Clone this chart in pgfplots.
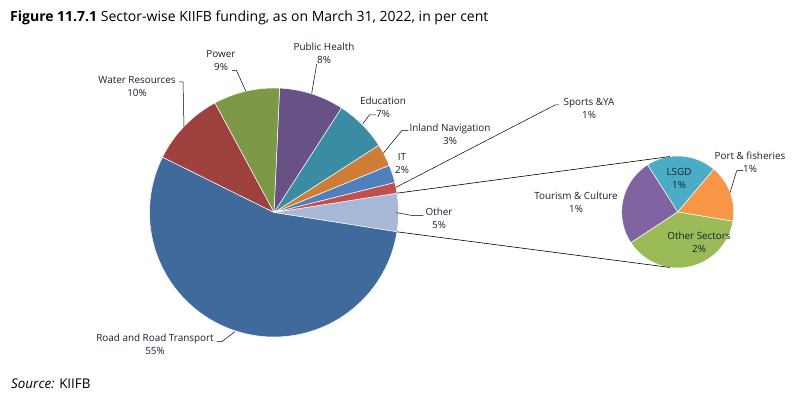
\documentclass[border=0pt]{standalone}
\usepackage{pgfplots}
\pgfplotsset{compat=1.18}
\usepackage{fontspec}
\setmainfont{Open Sans}
\definecolor{cRoad}{RGB}{65,106,156}
\definecolor{cWater}{RGB}{158,65,62}
\definecolor{cPower}{RGB}{125,152,71}
\definecolor{cPH}{RGB}{104,81,133}
\definecolor{cEdu}{RGB}{58,140,163}
\definecolor{cInland}{RGB}{206,125,57}
\definecolor{cIT}{RGB}{78,128,189}
\definecolor{cSports}{RGB}{193,80,77}
\definecolor{cOther}{RGB}{167,185,215}
\definecolor{cLSGD}{RGB}{75,172,198}
\definecolor{cPort}{RGB}{247,150,70}
\definecolor{cOS}{RGB}{155,187,89}
\definecolor{cTour}{RGB}{128,100,162}
\definecolor{txt}{RGB}{26,32,50}
% main pie values (per cent)
\def\vOther{4.96}
\def\vSports{1.40}
\def\vIT{2.30}
\def\vInland{2.90}
\def\vEdu{6.80}
\def\vPH{8.40}
\def\vPower{8.60}
\def\vWater{9.80}
\def\vRoad{54.84}
% secondary pie values (per cent)
\def\vPort{0.82}
\def\vLSGD{1.00}
\def\vTour{1.25}
\def\vOS{1.89}
\newcommand\slice[6]{%
  \addplot[fill=#6, draw=white, line width=0.5pt, domain=#4:#5, samples=90, variable=\t]
    ({#1+#3*cos(\t)},{#2+#3*sin(\t)}) -- (axis cs:#1,#2) -- cycle;}
\tikzset{lbl/.style={text=txt, font=\fontsize{9.9}{13}\selectfont, align=center, inner sep=1pt},
  ldr/.style={black, line width=0.5pt}}
\begin{document}
\begin{tikzpicture}
\pgfmathsetmacro\aA{-\vOther*1.8}
\pgfmathsetmacro\aB{\aA+\vOther*3.6}
\pgfmathsetmacro\aC{\aB+\vSports*3.6}
\pgfmathsetmacro\aD{\aC+\vIT*3.6}
\pgfmathsetmacro\aE{\aD+\vInland*3.6}
\pgfmathsetmacro\aF{\aE+\vEdu*3.6}
\pgfmathsetmacro\aG{\aF+\vPH*3.6}
\pgfmathsetmacro\aH{\aG+\vPower*3.6}
\pgfmathsetmacro\aI{\aH+\vWater*3.6}
\pgfmathsetmacro\aJ{\aI+\vRoad*3.6}
\pgfmathsetmacro\tot{\vPort+\vLSGD+\vTour+\vOS}
\pgfmathsetmacro\bA{-9.5}
\pgfmathsetmacro\bB{\bA+\vPort/\tot*360}
\pgfmathsetmacro\bC{\bB+\vLSGD/\tot*360}
\pgfmathsetmacro\bD{\bC+\vTour/\tot*360}
\pgfmathsetmacro\bE{\bD+\vOS/\tot*360}
\begin{axis}[width=807pt, height=399pt, scale only axis,
  xmin=0, xmax=807, ymin=0, ymax=399, axis lines=none, ticks=none, clip=false]
\slice{274}{186.5}{124.5}{\aA}{\aB}{cOther}
\slice{274}{186.5}{124.5}{\aB}{\aC}{cSports}
\slice{274}{186.5}{124.5}{\aC}{\aD}{cIT}
\slice{274}{186.5}{124.5}{\aD}{\aE}{cInland}
\slice{274}{186.5}{124.5}{\aE}{\aF}{cEdu}
\slice{274}{186.5}{124.5}{\aF}{\aG}{cPH}
\slice{274}{186.5}{124.5}{\aG}{\aH}{cPower}
\slice{274}{186.5}{124.5}{\aH}{\aI}{cWater}
\slice{274}{186.5}{124.5}{\aI}{\aJ}{cRoad}
\slice{677.7}{187}{56}{\bA}{\bB}{cPort}
\slice{677.7}{187}{56}{\bB}{\bC}{cLSGD}
\slice{677.7}{187}{56}{\bC}{\bD}{cTour}
\slice{677.7}{187}{56}{\bD}{\bE}{cOS}
% connectors
\draw[black, line width=0.6pt] (axis cs:{274+124.5*cos(\aB)},{186.5+124.5*sin(\aB)}) -- (axis cs:{677.7+56*cos(98)},{187+56*sin(98)});
\draw[black, line width=0.6pt] (axis cs:{274+124.5*cos(\aA)},{186.5+124.5*sin(\aA)}) -- (axis cs:{677.7+56*cos(262)},{187+56*sin(262)});
% leader lines
\draw[ldr] (axis cs:179,317) -- (axis cs:183,317) -- (axis cs:184,272);
\draw[ldr] (axis cs:232,328.5) -- (axis cs:236.5,328.5) -- (axis cs:246,307.5);
\draw[ldr] (axis cs:311.7,305.7) -- (axis cs:316.7,335);
\draw[ldr] (axis cs:362.7,275) -- (axis cs:369.3,284) -- (axis cs:376,284);
\draw[ldr] (axis cs:383.3,245.7) -- (axis cs:401.7,268.3) -- (axis cs:408.3,268.3);
\draw[ldr] (axis cs:396,211.7) -- (axis cs:555,294) -- (axis cs:559,294);
\draw[ldr] (axis cs:396.7,186.3) -- (axis cs:413.3,183.3) -- (axis cs:423.3,183.3);
\draw[ldr] (axis cs:216.7,57.3) -- (axis cs:221.7,57.3) -- (axis cs:235,67.3);
\draw[ldr] (axis cs:730,206.3) -- (axis cs:736.7,228.3) -- (axis cs:743.3,228.3);
% labels
\node[lbl] at (axis cs:137,312.5) {Water Resources\\10\%};
\node[lbl] at (axis cs:221,338.5) {Power\\9\%};
\node[lbl] at (axis cs:324,345.5) {Public Health\\8\%};
\node[lbl] at (axis cs:383,291.5) {Education\\7\%};
\node[lbl] at (axis cs:450,265) {Inland Navigation\\3\%};
\node[lbl] at (axis cs:402,235.5) {IT\\2\%};
\node[lbl] at (axis cs:589,290.5) {Sports \&YA\\1\%};
\node[lbl] at (axis cs:439,181) {Other\\5\%};
\node[lbl] at (axis cs:155,54.5) {Road and Road Transport\\55\%};
\node[lbl] at (axis cs:576,196.5) {Tourism \& Culture\\1\%};
\node[lbl] at (axis cs:679,220.5) {LSGD\\1\%};
\node[lbl] at (axis cs:750,237) {Port \& fisheries\\1\%};
\node[lbl] at (axis cs:699,156.5) {Other Sectors\\2\%};
% title and source
\node[anchor=base west, inner sep=0pt, text=black, font=\fontsize{14}{16}\selectfont] at (axis cs:10,377) {\textbf{Figure 11.7.1} Sector-wise KIIFB funding, as on March 31, 2022, in per cent};
\node[anchor=base west, inner sep=0pt, text=black, font=\fontsize{13.4}{15}\selectfont] at (axis cs:11,10) {\textit{Source:} KIIFB};
\end{axis}
\path (current axis.south west) (current axis.north east);
\end{tikzpicture}
\end{document}
